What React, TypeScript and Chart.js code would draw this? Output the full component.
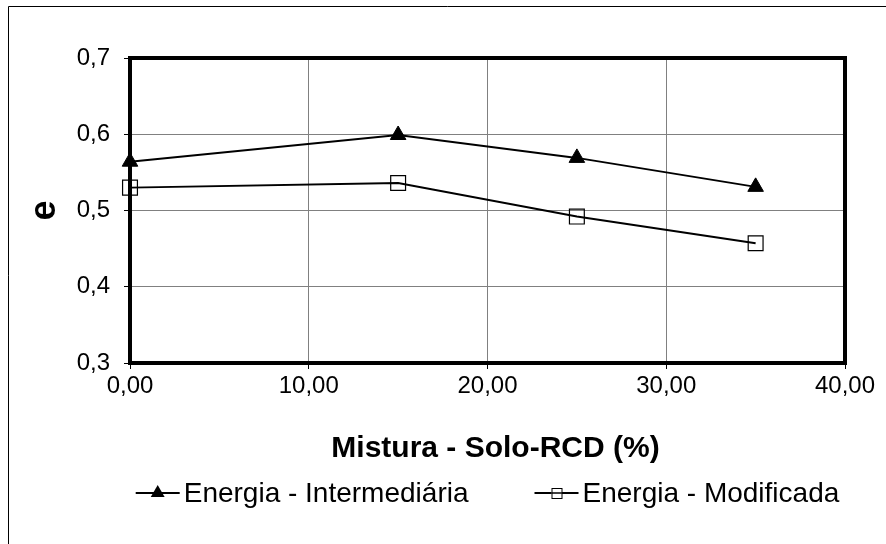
import React, { useEffect, useRef } from 'react';
import { Chart, registerables } from 'chart.js';

Chart.register(...registerables);

const xValues = [0, 15, 25, 35];
const intermediaria = [0.564, 0.599, 0.569, 0.531];
const modificada = [0.530, 0.536, 0.492, 0.457];
const seriesLabels = ['Energia - Intermediária', 'Energia - Modificada'];
const xTitle = 'Mistura - Solo-RCD (%)';
const yTitle = 'e';
const xMin = 0;
const xMax = 40;
const xStep = 10;
const yMin = 0.3;
const yMax = 0.7;
const yStep = 0.1;

const FONT = '"Liberation Sans", Arial, sans-serif';

const framePlugin = {
  id: 'framePlugin',
  beforeDatasetsDraw(chart: any) {
    const { ctx, chartArea } = chart;
    ctx.save();
    ctx.strokeStyle = '#000';
    ctx.lineWidth = 1;
    ctx.beginPath();
    ctx.moveTo(8.5, chart.height + 5);
    ctx.lineTo(8.5, 6.5);
    ctx.lineTo(chart.width + 5, 6.5);
    ctx.stroke();
    ctx.lineWidth = 4;
    ctx.strokeStyle = '#000';
    ctx.strokeRect(chartArea.left, chartArea.top, chartArea.right - chartArea.left, chartArea.bottom - chartArea.top);
    ctx.restore();
  },
};

const xTitlePlugin = {
  id: 'xTitlePlugin',
  afterDraw(chart: any) {
    const { ctx, chartArea } = chart;
    ctx.save();
    ctx.font = `bold 30px ${FONT}`;
    ctx.textAlign = 'center';
    ctx.textBaseline = 'middle';
    ctx.fillStyle = '#000';
    ctx.fillText(xTitle, (chartArea.left + chartArea.right) / 2 + 8, chartArea.bottom + 86);
    ctx.restore();
  },
};

const legendPlugin = {
  id: 'customLegend',
  afterDraw(chart: any) {
    const { ctx, chartArea } = chart;
    ctx.save();
    ctx.font = `28px ${FONT}`;
    ctx.textBaseline = 'middle';
    ctx.textAlign = 'left';
    const symW = 44;
    const symGap = 4;
    const itemGap = 66;
    const items = chart.data.datasets.map((ds: any) => ({
      ds,
      w: symW + symGap + ctx.measureText(ds.label).width,
    }));
    const total = items.reduce((s: number, it: any) => s + it.w, 0) + itemGap * (items.length - 1);
    let x = (chartArea.left + chartArea.right) / 2 - total / 2;
    const y = chartArea.bottom + 130;
    items.forEach((it: any) => {
      const ds = it.ds;
      ctx.strokeStyle = ds.borderColor;
      ctx.lineWidth = 2;
      ctx.beginPath();
      ctx.moveTo(x, y);
      ctx.lineTo(x + symW, y);
      ctx.stroke();
      const cx = x + symW / 2;
      if (ds.pointStyle === 'triangle') {
        const r = 8;
        ctx.fillStyle = '#000';
        ctx.beginPath();
        ctx.moveTo(cx, y - r);
        ctx.lineTo(cx + r * 0.866, y + r * 0.5);
        ctx.lineTo(cx - r * 0.866, y + r * 0.5);
        ctx.closePath();
        ctx.fill();
      } else {
        const s = 5;
        ctx.fillStyle = '#fff';
        ctx.fillRect(cx - s, y - s, 2 * s, 2 * s);
        ctx.lineWidth = 1;
        ctx.strokeStyle = '#000';
        ctx.strokeRect(cx - s + 0.5, y - s + 0.5, 2 * s, 2 * s);
        ctx.beginPath();
        ctx.lineWidth = 1.5;
        ctx.moveTo(cx - s, y);
        ctx.lineTo(cx + s, y);
        ctx.stroke();
      }
      ctx.fillStyle = '#000';
      ctx.fillText(ds.label, x + symW + symGap, y + 1);
      x += it.w + itemGap;
    });
    ctx.restore();
  },
};

export default function App() {
  const ref = useRef<HTMLCanvasElement | null>(null);
  useEffect(() => {
    if (!ref.current) return;
    const chart = new Chart(ref.current, {
      type: 'line',
      data: {
        datasets: [
          {
            label: seriesLabels[0],
            data: xValues.map((x, i) => ({ x, y: intermediaria[i] })),
            borderColor: '#000',
            borderWidth: 2,
            pointStyle: 'triangle',
            pointRadius: 9,
            pointBackgroundColor: '#000',
            pointBorderColor: '#000',
            pointBorderWidth: 1,
            tension: 0,
            clip: false,
          } as any,
          {
            label: seriesLabels[1],
            data: xValues.map((x, i) => ({ x, y: modificada[i] })),
            borderColor: '#000',
            borderWidth: 2,
            pointStyle: 'rect',
            pointRadius: 10.5,
            pointBackgroundColor: 'rgba(0,0,0,0)',
            pointBorderColor: '#000',
            pointBorderWidth: 1.2,
            tension: 0,
            clip: false,
          } as any,
        ],
      },
      options: {
        animation: false,
        responsive: false,
        events: [],
        layout: { padding: { left: 0, top: 58, right: 41, bottom: 0 } },
        plugins: { legend: { display: false }, tooltip: { enabled: false }, title: { display: false } },
        scales: {
          x: {
            type: 'linear',
            min: xMin,
            max: xMax,
            ticks: {
              stepSize: xStep,
              color: '#000',
              font: { family: FONT, size: 24 },
              padding: 3,
              maxRotation: 0,
              callback: (v: any) => Number(v).toFixed(2).replace('.', ','),
            },
            grid: { color: '#808080', lineWidth: 1, tickColor: '#000', tickLength: 6 },
            border: { display: false },
            title: { display: false },
            afterFit: (scale: any) => {
              scale.height = 181;
            },
          },
          y: {
            type: 'linear',
            min: yMin,
            max: yMax,
            ticks: {
              stepSize: yStep,
              color: '#000',
              font: { family: FONT, size: 24 },
              padding: 14,
              callback: (v: any) => Number(v).toFixed(1).replace('.', ','),
            },
            grid: { color: '#808080', lineWidth: 1, tickColor: '#000', tickLength: 6 },
            border: { display: false },
            title: {
              display: true,
              text: yTitle,
              color: '#000',
              font: { family: FONT, size: 36, weight: 'bold', lineHeight: 1.2 },
              padding: { top: 23, bottom: 0 },
            },
            afterFit: (scale: any) => {
              scale.width = 130;
            },
          },
        },
      } as any,
      plugins: [framePlugin, xTitlePlugin, legendPlugin],
    });
    return () => chart.destroy();
  }, []);
  return (
    <div style={{ position: 'fixed', left: 0, top: 0, width: 886, height: 544, background: '#fff' }}>
      <canvas ref={ref} width={886} height={544} style={{ display: 'block' }} />
    </div>
  );
}
